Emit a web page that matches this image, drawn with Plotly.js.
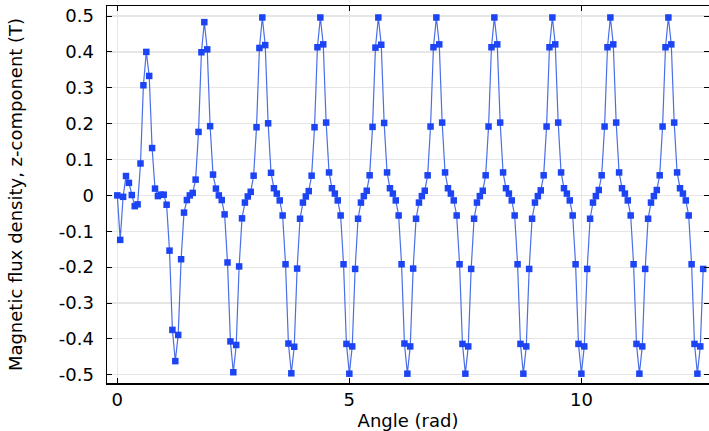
<!DOCTYPE html>
<html>
<head>
<meta charset="utf-8">
<script src="https://cdn.plot.ly/plotly-3.0.1.min.js"></script>
<style>
html,body{margin:0;padding:0;background:#fff;}
#chart{width:709px;height:431px;}
</style>
</head>
<body>
<div id="chart"></div>
<script>
// Sample angles: first angle and spacing (rad)
const angleStart = 0;
const angleStep = 0.0625;

// Magnetic flux density, z-component (T)
const bz = [
  0.000, -0.124, -0.004, 0.054, 0.035, 0.001, -0.030, -0.025, 0.089, 0.307,
  0.400, 0.333, 0.132, 0.019, -0.002, 0.002, 0.002, -0.026, -0.154, -0.375,
  -0.462, -0.389, -0.178, -0.048, -0.013, 0.000, 0.007, 0.044, 0.177, 0.399,
  0.483, 0.407, 0.193, 0.058, 0.019, 0.000, -0.013, -0.053, -0.187, -0.407,
  -0.493, -0.417, -0.198, -0.064, -0.020, -0.003, 0.010, 0.055, 0.190, 0.411,
  0.496, 0.419, 0.201, 0.063, 0.020, 0.005, -0.014, -0.056, -0.192, -0.413,
  -0.496, -0.422, -0.204, -0.065, -0.020, -0.003, 0.012, 0.055, 0.190, 0.413,
  0.496, 0.421, 0.203, 0.064, 0.020, 0.005, -0.014, -0.056, -0.192, -0.414,
  -0.497, -0.421, -0.205, -0.065, -0.020, -0.002, 0.013, 0.056, 0.191, 0.412,
  0.496, 0.420, 0.202, 0.064, 0.020, 0.005, -0.014, -0.056, -0.192, -0.413,
  -0.497, -0.421, -0.204, -0.065, -0.020, -0.002, 0.013, 0.056, 0.192, 0.413,
  0.496, 0.421, 0.203, 0.064, 0.020, 0.005, -0.014, -0.056, -0.192, -0.414,
  -0.497, -0.421, -0.205, -0.065, -0.020, -0.002, 0.013, 0.056, 0.192, 0.413,
  0.496, 0.421, 0.203, 0.064, 0.020, 0.005, -0.014, -0.056, -0.192, -0.414,
  -0.497, -0.421, -0.205, -0.065, -0.020, -0.002, 0.014, 0.056, 0.192, 0.413,
  0.496, 0.421, 0.203, 0.064, 0.020, 0.005, -0.014, -0.056, -0.192, -0.414,
  -0.497, -0.421, -0.205, -0.065, -0.020, -0.002, 0.015, 0.056, 0.192, 0.413,
  0.496, 0.421, 0.203, 0.064, 0.020, 0.005, -0.014, -0.056, -0.192, -0.414,
  -0.497, -0.421, -0.205, -0.065, -0.020, -0.002, 0.015, 0.056, 0.192, 0.413,
  0.496, 0.421, 0.203, 0.064, 0.020, 0.005, -0.014, -0.056, -0.192, -0.414,
  -0.497, -0.421, -0.205
];

const xTickVals = [0, 5, 10];
const xTickText = ['0', '5', '10'];
const yTickVals = [0.5, 0.4, 0.3, 0.2, 0.1, 0, -0.1, -0.2, -0.3, -0.4, -0.5];
const yTickText = ['0.5', '0.4', '0.3', '0.2', '0.1', '0', '-0.1', '-0.2', '-0.3', '-0.4', '-0.5'];

const font = {family: 'DejaVu Sans', size: 18, color: '#000'};

const trace = {
  type: 'scatter',
  mode: 'lines+markers',
  x0: angleStart,
  dx: angleStep,
  y: bz,
  line: {color: '#4a6fe6', width: 1.2},
  marker: {symbol: 'square', size: 6.5, color: '#1c44f4', line: {width: 0}},
  hoverinfo: 'skip'
};

const layout = {
  width: 709,
  height: 431,
  margin: {l: 107, r: 0, t: 6, b: 48, pad: 0},
  paper_bgcolor: '#fff',
  plot_bgcolor: '#fff',
  showlegend: false,
  font: font,
  xaxis: {
    range: [-0.222, 12.75],
    tickmode: 'array',
    tickvals: xTickVals,
    ticktext: xTickText,
    ticks: 'inside',
    ticklen: 5,
    tickcolor: '#000',
    showline: true,
    linecolor: '#000',
    linewidth: 1.5,
    mirror: 'ticks',
    showgrid: true,
    gridcolor: '#e6e6e6',
    gridwidth: 1.2,
    zeroline: false,
    automargin: false,
    ticklabelstandoff: 0,
    tickfont: font,
    title: {text: 'Angle (rad)', font: font, standoff: 5}
  },
  yaxis: {
    range: [-0.523, 0.528],
    tickmode: 'array',
    tickvals: yTickVals,
    ticktext: yTickText,
    ticks: 'inside',
    ticklen: 5,
    tickcolor: '#000',
    showline: true,
    linecolor: '#000',
    linewidth: 1.5,
    mirror: 'ticks',
    showgrid: true,
    gridcolor: '#e6e6e6',
    gridwidth: 1.2,
    zeroline: false,
    automargin: false,
    ticklabelstandoff: 8,
    tickfont: font,
    title: {text: 'Magnetic flux density, z-component (T)', font: font, standoff: 31}
  }
};

Plotly.newPlot('chart', [trace], layout, {staticPlot: true, displayModeBar: false});
</script>
</body>
</html>
